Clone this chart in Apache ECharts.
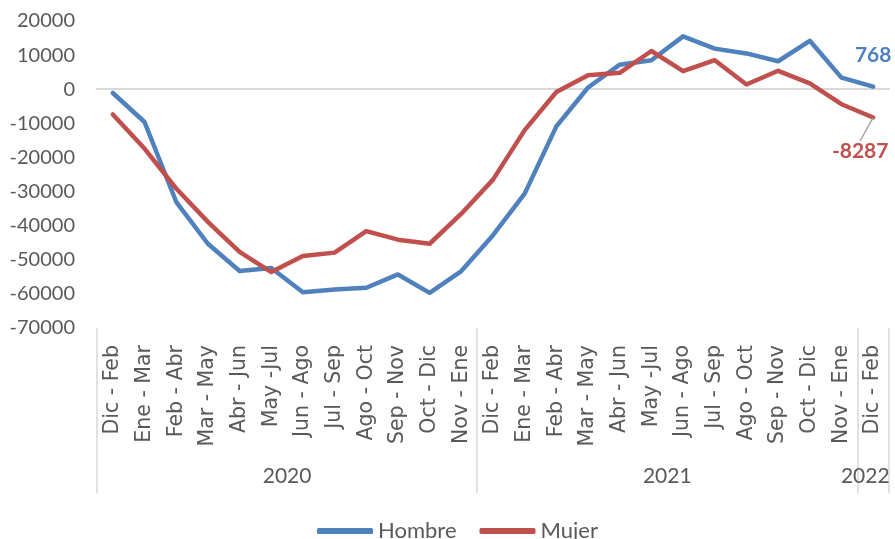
<!DOCTYPE html>
<html>
<head>
<meta charset="utf-8">
<script src="https://cdn.jsdelivr.net/npm/echarts@6/dist/echarts.min.js"></script>
<style>
  html, body { margin: 0; padding: 0; background: #fff; }
  #chart { width: 895px; height: 539px; }
</style>
</head>
<body>
<div id="chart"></div>
<script>
const periods = [
  'Dic - Feb', 'Ene - Mar', 'Feb - Abr', 'Mar - May', 'Abr - Jun', 'May -Jul',
  'Jun - Ago', 'Jul - Sep', 'Ago - Oct', 'Sep - Nov', 'Oct - Dic', 'Nov - Ene',
  'Dic - Feb', 'Ene - Mar', 'Feb - Abr', 'Mar - May', 'Abr - Jun', 'May -Jul',
  'Jun - Ago', 'Jul - Sep', 'Ago - Oct', 'Sep - Nov', 'Oct - Dic', 'Nov - Ene',
  'Dic - Feb'
]
const years = ['2020', '2021', '2022']
const yearStarts = [0, 12, 24, 25]
const hombre = [
  -1100, -9600, -33000, -45300, -53300, -52400, -59500, -58700, -58200, -54300, -59700, -53300,
  -42800, -30600, -10900, 500, 7200, 8500, 15500, 11900, 10500, 8200, 14200, 3400, 768
]
const mujer = [
  -7400, -17400, -29100, -38900, -47700, -53600, -48900, -47900, -41600, -44100, -45300, -36500,
  -26500, -12000, -800, 4100, 4800, 11200, 5300, 8500, 1400, 5400, 1700, -4400, -8287
]

const blue = '#4F81BD'
const red = '#C0504D'
const gray = '#595959'

// year labels sit in the middle of each group (2022 nudged left like Excel does)
const yearCenters = [6, 18, 24.25]

function lastLabeled (values, color, pos, dist) {
  return values.map((v, i) => {
    if (i !== values.length - 1) return v
    return {
      value: v,
      label: {
        show: true,
        position: pos,
        distance: dist,
        color: color,
        fontFamily: 'Lato',
        fontWeight: 'bold',
        fontSize: 21
      }
    }
  })
}

const chart = echarts.init(document.getElementById('chart'))
chart.setOption({
  animation: false,
  grid: { left: 97, right: 6, top: 21, bottom: 211 },
  legend: {
    left: 312,
    top: 515,
    itemWidth: 56,
    itemHeight: 6,
    itemGap: 23,
    icon: 'roundRect',
    textStyle: { color: gray, fontFamily: 'Lato', fontSize: 22 },
    data: ['Hombre', 'Mujer']
  },
  xAxis: [
    {
      type: 'category',
      data: periods,
      position: 'bottom',
      axisLine: { show: false, onZero: false },
      axisTick: { show: false },
      axisLabel: {
        rotate: 90,
        interval: 0,
        margin: 17,
        color: gray,
        fontFamily: '"DejaVu Sans"',
        fontSize: 20.5
      }
    },
    {
      type: 'value',
      min: 0,
      max: 25,
      position: 'bottom',
      axisLine: { show: false, onZero: false },
      splitLine: { show: false },
      axisTick: {
        show: true,
        customValues: yearStarts,
        length: 165,
        lineStyle: { color: '#d9d9d9', width: 1.5 }
      },
      axisLabel: {
        customValues: yearCenters,
        margin: 138,
        color: gray,
        fontFamily: 'Lato',
        fontSize: 21,
        formatter: v => years[yearCenters.indexOf(v)] || ''
      }
    },
    {
      // the zero line
      type: 'category',
      data: periods,
      axisLine: { show: true, onZero: true, lineStyle: { color: '#d9d9d9', width: 2 } },
      axisTick: { show: false },
      axisLabel: { show: false }
    }
  ],
  yAxis: {
    type: 'value',
    min: -70000,
    max: 20000,
    interval: 10000,
    axisLine: { show: false },
    axisTick: { show: false },
    splitLine: { show: false },
    axisLabel: {
      margin: 22,
      color: gray,
      fontFamily: 'Lato',
      fontSize: 20,
      formatter: v => String(v)
    }
  },
  series: [
    {
      name: 'Hombre',
      type: 'line',
      xAxisIndex: 0,
      data: lastLabeled(hombre, blue, 'top', 20),
      color: blue,
      symbol: 'circle',
      symbolSize: 1,
      lineStyle: { width: 4.5, color: blue, cap: 'round', join: 'round' }
    },
    {
      name: 'Mujer',
      type: 'line',
      xAxisIndex: 0,
      data: lastLabeled(mujer, red, 'bottom', 23),
      color: red,
      symbol: 'circle',
      symbolSize: 1,
      lineStyle: { width: 4.5, color: red, cap: 'round', join: 'round' },
      labelLayout: { dx: -13 },
      labelLine: { show: true, lineStyle: { color: '#a6a6a6', width: 1.5 } }
    }
  ]
})
</script>
</body>
</html>
